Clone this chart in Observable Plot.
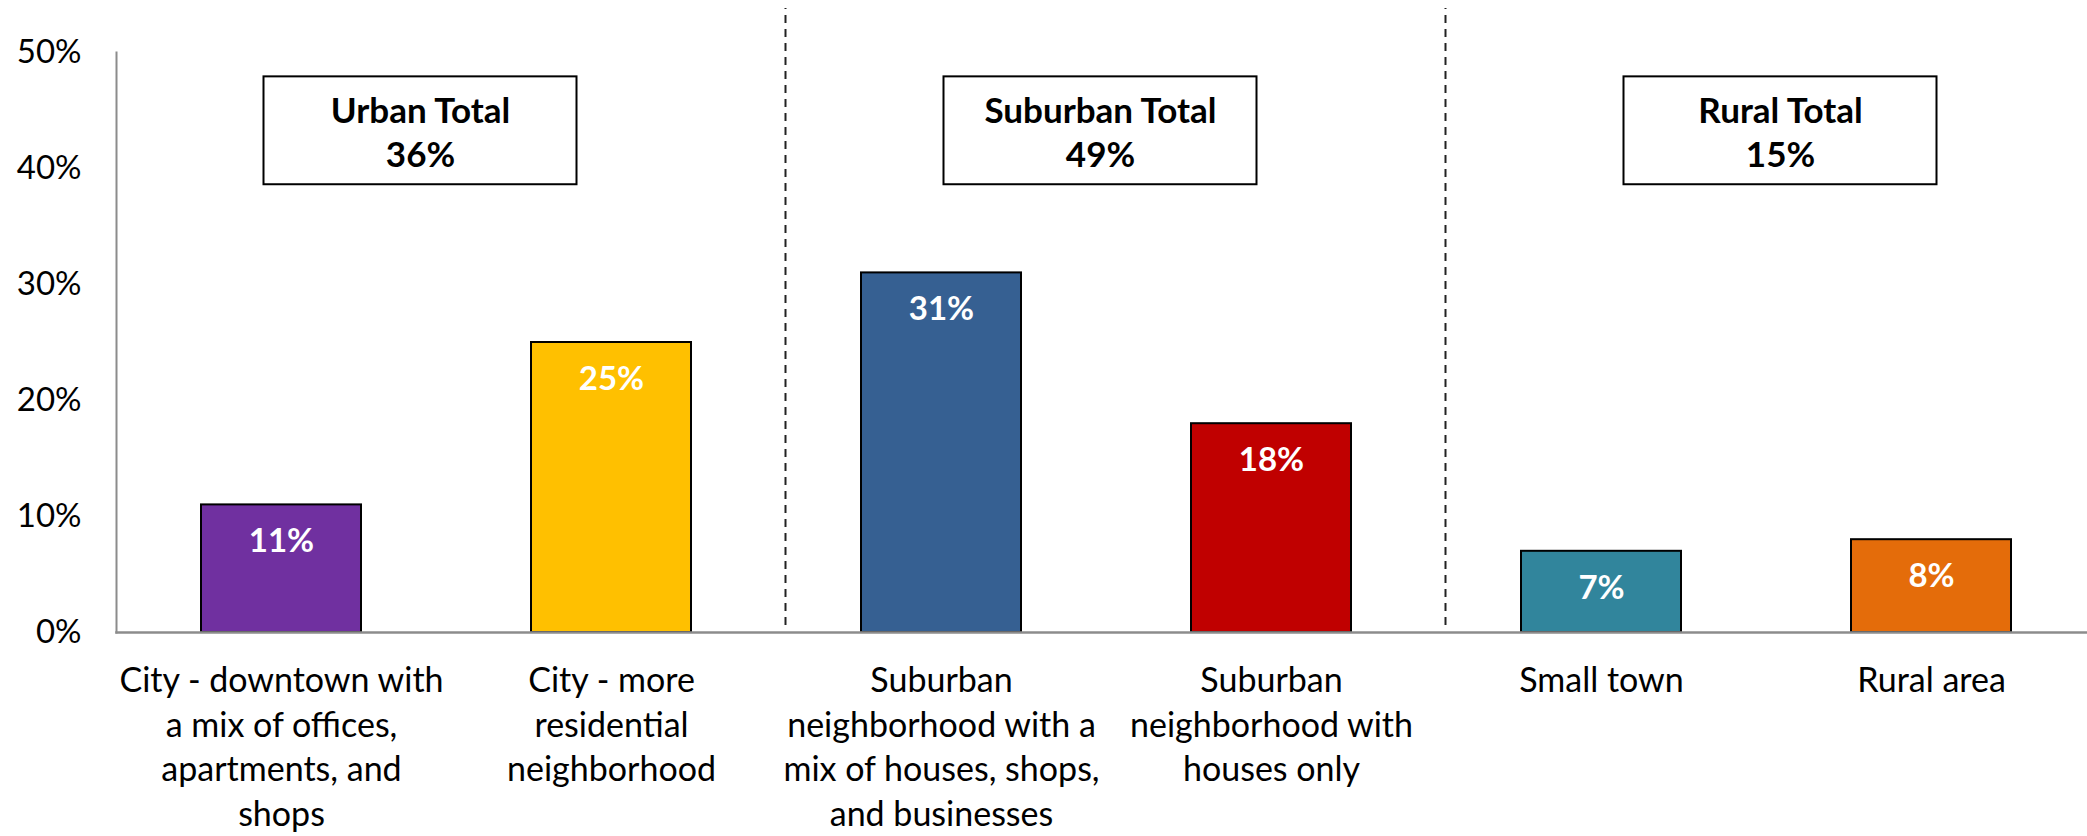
<!DOCTYPE html>
<html>
<head>
<meta charset="utf-8">
<script src="https://cdn.jsdelivr.net/npm/d3@7"></script>
<script src="https://cdn.jsdelivr.net/npm/@observablehq/plot@0.6"></script>
<style>
  html, body { margin: 0; padding: 0; background: #fff; }
  #chart svg { display: block; }
</style>
</head>
<body>
<div id="chart"></div>
<script>
// ---- data ----
const categories = [
  "City - downtown with a mix of offices, apartments, and shops",
  "City - more residential neighborhood",
  "Suburban neighborhood with a mix of houses, shops, and businesses",
  "Suburban neighborhood with houses only",
  "Small town",
  "Rural area"
];
const tickLabels = [
  "City - downtown with\na mix of offices,\napartments, and\nshops",
  "City - more\nresidential\nneighborhood",
  "Suburban\nneighborhood with a\nmix of houses, shops,\nand businesses",
  "Suburban\nneighborhood with\nhouses only",
  "Small town",
  "Rural area"
];
const values = [11, 25, 31, 18, 7, 8];
const groupNames = ["Urban Total", "Suburban Total", "Rural Total"];
const groupTotals = [36, 49, 15];
const groupFirstIndex = [0, 2, 4];
const yTicks = [0, 10, 20, 30, 40, 50];

// ---- styles ----
const barColors = ["#7030A0", "#FFC000", "#366092", "#C00000", "#31859C", "#E46C0A"];
const boxDx = [139, 159, 179];      // box centre offset from the group's first bar centre (px)
const boxY = [38.6, 47.9];          // box extent in y units
const sepDx = -156;
const FONT = "Lato, 'Open Sans', sans-serif";
const FS = 33;

const rows = categories.map((c, i) => ({cat: c, value: values[i], color: barColors[i]}));
const separators = [categories[2], categories[4]];

const boxMarks = groupNames.flatMap((g, k) => {
  const d = [{cat: categories[groupFirstIndex[k]], label: g + "\n" + groupTotals[k] + "%"}];
  return [
    Plot.barY(d, {x: "cat", y1: boxY[0], y2: boxY[1], fill: "#fff", stroke: "#000", strokeWidth: 2,
      dx: boxDx[k], insetLeft: -76.5, insetRight: -76.5}),
    Plot.text(d, {x: "cat", y: (boxY[0] + boxY[1]) / 2, text: "label", dx: boxDx[k],
      fontWeight: "bold", fontSize: 35, fill: "#000", lineAnchor: "middle", lineHeight: 1.26})
  ];
});

const chart = Plot.plot({
  width: 2087,
  height: 836,
  marginLeft: 116,
  marginRight: -9,
  marginTop: 52,
  marginBottom: 204,
  style: {fontFamily: FONT, fontSize: FS + "px", color: "#000", background: "#fff", overflow: "visible"},
  x: {domain: categories, paddingInner: 0.515, paddingOuter: 0.2575, label: null},
  y: {domain: [0, 50], label: null},
  marks: [
    Plot.ruleX(separators, {x: d => d, y1: 0.6, y2: 53.8, dx: sepDx, stroke: "#222", strokeWidth: 2, strokeDasharray: "8,6"}),
    Plot.barY(rows, {x: "cat", y: "value", fill: "color", stroke: "#000", strokeWidth: 2}),
    Plot.text(rows, {x: "cat", y: "value", text: d => d.value + "%", dy: 37, fill: "#fff",
      fontWeight: "bold", fontSize: FS, lineAnchor: "middle"}),
    ...boxMarks,
    Plot.frame({anchor: "left", stroke: "#8c8c8c", strokeWidth: 2}),
    Plot.frame({anchor: "bottom", stroke: "#8c8c8c", strokeWidth: 2.5}),
    Plot.axisY({ticks: yTicks, tickFormat: d => d + "%", tickSize: 0, tickPadding: 35, fontSize: FS, label: null}),
    Plot.axisX({tickFormat: d => tickLabels[categories.indexOf(d)], tickSize: 0, tickPadding: 28,
      fontSize: 34, lineHeight: 1.31, label: null})
  ]
});
document.getElementById("chart").appendChild(chart);
</script>
</body>
</html>
